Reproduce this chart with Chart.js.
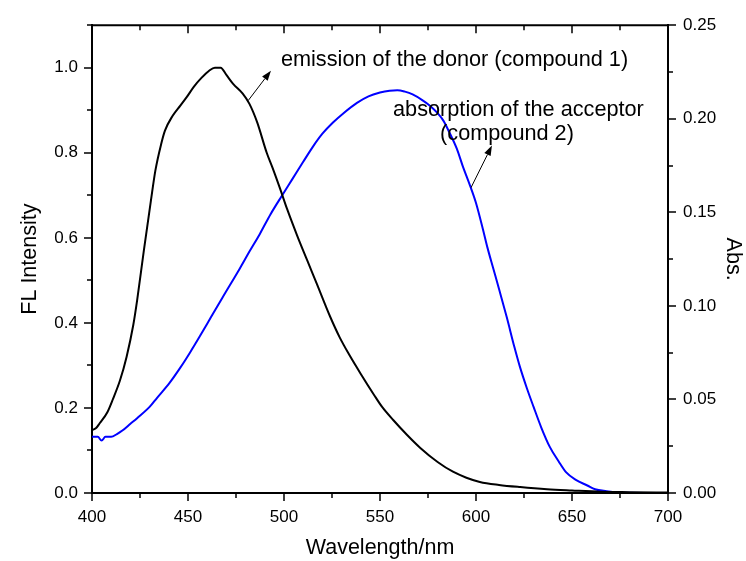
<!DOCTYPE html>
<html>
<head>
<meta charset="utf-8">
<script src="https://cdn.jsdelivr.net/npm/chart.js@4"></script>
<style>
  html, body { margin: 0; padding: 0; background: #fff; }
  #wrap { width: 746px; height: 561px; }
</style>
</head>
<body>
<div id="wrap"><canvas id="spectra"></canvas></div>
<script>
// donor emission (compound 1), normalised FL intensity
const emissionNm = [400, 402, 404, 408, 411, 414.6, 418, 421.5, 423.5, 427, 430.7, 433, 436, 438, 442, 446, 449.5, 453, 457, 461, 464, 467, 470, 473.5, 478.5, 482, 486, 491, 494, 498, 501.6, 506.8, 512, 517, 524, 529, 534, 540, 547, 551, 557, 564, 571, 580, 588, 595, 602, 612, 623, 637, 650, 665, 680, 700];
const emissionFl = [0.148, 0.152, 0.164, 0.19, 0.222, 0.265, 0.32, 0.395, 0.453, 0.57, 0.688, 0.758, 0.82, 0.852, 0.887, 0.911, 0.932, 0.955, 0.976, 0.993, 1.0, 1.0, 0.983, 0.962, 0.939, 0.915, 0.872, 0.8, 0.765, 0.715, 0.668, 0.606, 0.548, 0.493, 0.415, 0.366, 0.325, 0.28, 0.23, 0.203, 0.171, 0.137, 0.106, 0.073, 0.05, 0.036, 0.026, 0.019, 0.014, 0.009, 0.006, 0.003, 0.002, 0.001];

// acceptor absorption (compound 2)
const absorptionNm = [400, 403, 405, 407, 410, 413, 416, 420, 423.5, 430, 434, 440.5, 446, 451, 456, 462, 468, 477, 482, 487.5, 493, 499, 504.5, 510, 515, 520, 525.5, 531, 538, 544, 550, 555, 559, 563, 567, 572, 576, 580, 583, 586, 590, 593, 597, 600, 603.6, 606, 609, 612, 616, 620, 623, 626.5, 630, 634, 638.5, 643, 647, 652, 658, 662, 668, 675, 700];
const absorptionAbs = [0.030, 0.030, 0.028, 0.030, 0.030, 0.0315, 0.0335, 0.037, 0.040, 0.046, 0.051, 0.059, 0.067, 0.075, 0.0835, 0.094, 0.1045, 0.12, 0.129, 0.1386, 0.149, 0.159, 0.168, 0.177, 0.185, 0.192, 0.198, 0.203, 0.2085, 0.212, 0.214, 0.215, 0.2153, 0.2145, 0.213, 0.210, 0.207, 0.203, 0.199, 0.193, 0.184, 0.175, 0.164, 0.155, 0.141, 0.131, 0.12, 0.109, 0.094, 0.078, 0.067, 0.056, 0.046, 0.035, 0.0245, 0.017, 0.011, 0.007, 0.004, 0.002, 0.001, 0.0003, 0];

// axis ranges and tick steps
const xRange = [400, 700];
const xMajor = 50, xMinor = 25;
const flRange = [0, 1.1];
const flMajor = 0.2, flMinor = 0.1;
const absRange = [0, 0.25];
const absMajor = 0.05, absMinor = 0.025;

const FONT = "'Liberation Sans', Arial, sans-serif";

const toPoints = (xs, ys) => xs.map((x, i) => ({ x: x, y: ys[i] }));

function stepValues(min, max, step) {
    const out = [];
    const n = Math.round((max - min) / step);
    for (let i = 0; i <= n; i++) out.push(+(min + i * step).toFixed(4));
    return out;
}

// outward ticks on left/bottom/right, inward ticks on the top edge, plus top frame line
const frameTicks = {
    id: 'frameTicks',
    afterDraw(chart) {
        const ctx = chart.ctx;
        const a = chart.chartArea;
        const sx = chart.scales.x, sy = chart.scales.y, sy2 = chart.scales.y2;
        const MAJ = 8, MIN = 5;
        ctx.save();
        ctx.strokeStyle = '#000';
        ctx.lineWidth = 2;
        ctx.beginPath();
        ctx.moveTo(a.left - 1, a.top);
        ctx.lineTo(a.right + 1, a.top);
        ctx.stroke();

        const isMajor = (v, step) => Math.abs(v / step - Math.round(v / step)) < 1e-6;
        ctx.lineWidth = 1.5;
        ctx.beginPath();
        stepValues(xRange[0], xRange[1], xMinor).forEach(v => {
            const px = Math.round(sx.getPixelForValue(v));
            const len = isMajor(v, xMajor) ? MAJ : MIN;
            ctx.moveTo(px, a.bottom); ctx.lineTo(px, a.bottom + len);
            ctx.moveTo(px, a.top); ctx.lineTo(px, a.top + len);
        });
        stepValues(flRange[0], flRange[1], flMinor).forEach(v => {
            const py = Math.round(sy.getPixelForValue(v));
            const len = isMajor(v, flMajor) ? MAJ : MIN;
            ctx.moveTo(a.left, py); ctx.lineTo(a.left - len, py);
        });
        stepValues(absRange[0], absRange[1], absMinor).forEach(v => {
            const py = Math.round(sy2.getPixelForValue(v));
            const len = isMajor(v, absMajor) ? MAJ : MIN;
            ctx.moveTo(a.right, py); ctx.lineTo(a.right + len, py);
        });
        ctx.stroke();
        ctx.restore();
    }
};

function arrow(ctx, x1, y1, x2, y2) {
    const ang = Math.atan2(y2 - y1, x2 - x1);
    const hl = 10, hw = 3.5;
    ctx.beginPath();
    ctx.moveTo(x1, y1);
    ctx.lineTo(x2 - hl * Math.cos(ang), y2 - hl * Math.sin(ang));
    ctx.stroke();
    ctx.beginPath();
    ctx.moveTo(x2, y2);
    ctx.lineTo(x2 - hl * Math.cos(ang) + hw * Math.sin(ang), y2 - hl * Math.sin(ang) - hw * Math.cos(ang));
    ctx.lineTo(x2 - hl * Math.cos(ang) - hw * Math.sin(ang), y2 - hl * Math.sin(ang) + hw * Math.cos(ang));
    ctx.closePath();
    ctx.fill();
}

// curve labels with pointer arrows, placed in data coordinates
const curveNotes = {
    id: 'curveNotes',
    afterDraw(chart) {
        const ctx = chart.ctx;
        const sx = chart.scales.x, sy = chart.scales.y;
        const px = v => sx.getPixelForValue(v);
        const py = v => sy.getPixelForValue(v);
        ctx.save();
        ctx.fillStyle = '#000';
        ctx.strokeStyle = '#000';
        ctx.lineWidth = 1;
        ctx.font = '21.7px ' + FONT;
        ctx.textBaseline = 'alphabetic';
        ctx.fillText('emission of the donor (compound 1)', px(498.4), py(1.005));
        ctx.fillText('absorption of the acceptor', px(556.8), py(0.887));
        ctx.fillText('(compound 2)', px(581.3), py(0.829));
        arrow(ctx, px(481.3), py(0.9225), px(493.2), py(0.993));
        arrow(ctx, px(597.4), py(0.718), px(608.3), py(0.817));
        ctx.restore();
    }
};

new Chart(document.getElementById('spectra'), {
    type: 'line',
    data: {
        datasets: [
            {
                label: 'emission of the donor (compound 1)',
                data: toPoints(emissionNm, emissionFl),
                yAxisID: 'y',
                borderColor: '#000000',
                borderWidth: 2,
                pointRadius: 0,
                cubicInterpolationMode: 'monotone',
                fill: false
            },
            {
                label: 'absorption of the acceptor (compound 2)',
                data: toPoints(absorptionNm, absorptionAbs),
                yAxisID: 'y2',
                borderColor: '#0000ff',
                borderWidth: 2,
                pointRadius: 0,
                cubicInterpolationMode: 'monotone',
                fill: false
            }
        ]
    },
    options: {
        responsive: true,
        maintainAspectRatio: false,
        animation: false,
        events: [],
        layout: { padding: { top: 24, left: 0, right: 0, bottom: 0 } },
        plugins: {
            legend: { display: false },
            tooltip: { enabled: false }
        },
        scales: {
            x: {
                type: 'linear',
                min: xRange[0], max: xRange[1],
                afterFit: s => { s.height = 68; },
                afterBuildTicks: s => { s.ticks = stepValues(xRange[0], xRange[1], xMajor).map(v => ({ value: v })); },
                grid: { display: false, drawTicks: false },
                border: { display: true, color: '#000', width: 2 },
                ticks: { padding: 14, color: '#000', font: { family: FONT, size: 17 }, maxRotation: 0 },
                title: { display: true, text: 'Wavelength/nm', color: '#000', font: { family: FONT, size: 21.5 }, padding: { top: 0, bottom: 0 } }
            },
            y: {
                position: 'left',
                min: flRange[0], max: flRange[1],
                afterFit: s => { s.width = 92; },
                afterBuildTicks: s => { s.ticks = stepValues(flRange[0], 1.0, flMajor).map(v => ({ value: v })); },
                grid: { display: false, drawTicks: false },
                border: { display: true, color: '#000', width: 2 },
                ticks: { padding: 14, color: '#000', font: { family: FONT, size: 17 }, callback: v => v.toFixed(1) },
                title: { display: true, text: 'FL Intensity', color: '#000', font: { family: FONT, size: 21.5 }, padding: { top: 17, bottom: 0 } }
            },
            y2: {
                position: 'right',
                min: absRange[0], max: absRange[1],
                afterFit: s => { s.width = 78; },
                afterBuildTicks: s => { s.ticks = stepValues(absRange[0], absRange[1], absMajor).map(v => ({ value: v })); },
                grid: { display: false, drawTicks: false },
                border: { display: true, color: '#000', width: 2 },
                ticks: { padding: 15, color: '#000', font: { family: FONT, size: 17 }, callback: v => v.toFixed(2) },
                title: { display: true, text: 'Abs.', color: '#000', font: { family: FONT, size: 21.5 }, padding: { top: 0, bottom: 0 } }
            }
        }
    },
    plugins: [frameTicks, curveNotes]
});
</script>
</body>
</html>
